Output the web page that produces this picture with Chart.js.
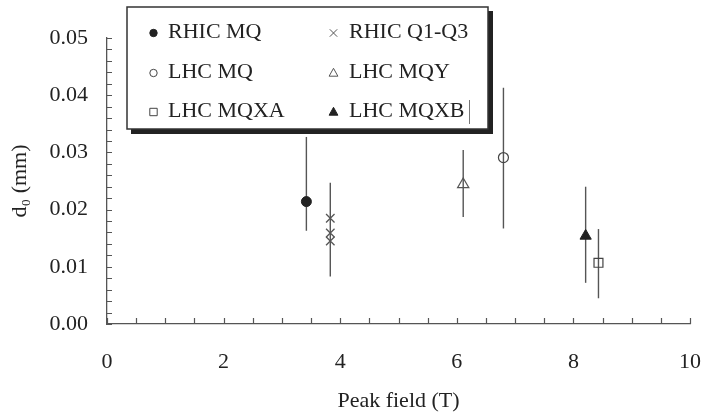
<!DOCTYPE html>
<html lang="en">
<head>
<meta charset="UTF-8">
<title>d0 vs Peak field</title>
<script src="https://cdn.jsdelivr.net/npm/chart.js"></script>
<style>
  body { margin: 0; background: #fff; }
</style>
</head>
<body>
<canvas id="myChart" width="706" height="415"></canvas>
<script>
// nomes das series (ordem da legenda, linha por linha)
const nomes = ["RHIC MQ", "RHIC Q1-Q3", "LHC MQ", "LHC MQY", "LHC MQXA", "LHC MQXB"];

// pontos
const rhicMqX = [3.42];
const rhicMqY = [0.0214];
const rhicQX = [3.83, 3.83, 3.83];
const rhicQY = [0.0185, 0.0159, 0.0145];
const lhcMqX = [6.80];
const lhcMqY = [0.0291];
const lhcMqyX = [6.11];
const lhcMqyY = [0.0244];
const lhcMqxaX = [8.43];
const lhcMqxaY = [0.0107];
const lhcMqxbX = [8.21];
const lhcMqxbY = [0.0154];

// barras de erro (uma por grupo)
const barX = [3.42, 3.83, 6.80, 6.11, 8.43, 8.21];
const barLow = [0.0163, 0.0083, 0.0167, 0.0187, 0.0045, 0.0072];
const barHigh = [0.0327, 0.0247, 0.0413, 0.0304, 0.0166, 0.0240];

// rotulos dos eixos
const xTickLabels = ["0", "2", "4", "6", "8", "10"];
const yTickLabels = ["0.00", "0.01", "0.02", "0.03", "0.04", "0.05"];

const fonte = "Liberation Serif, 'Times New Roman', serif";
const corTexto = "#222";

function pts(xs, ys) {
    return xs.map((x, i) => ({ x: x, y: ys[i] }));
}

const estilos = [
    { pointStyle: "circle", pointRadius: 5, backgroundColor: "#222", borderColor: "#222", borderWidth: 1 },
    { pointStyle: "crossRot", pointRadius: 6, backgroundColor: "#555", borderColor: "#555", borderWidth: 1.3 },
    { pointStyle: "circle", pointRadius: 5, backgroundColor: "rgba(0,0,0,0)", borderColor: "#444", borderWidth: 1.2 },
    { pointStyle: "triangle", pointRadius: 6.5, backgroundColor: "rgba(0,0,0,0)", borderColor: "#555", borderWidth: 1.2 },
    { pointStyle: "rect", pointRadius: 6.3, backgroundColor: "rgba(0,0,0,0)", borderColor: "#444", borderWidth: 1.2 },
    { pointStyle: "triangle", pointRadius: 6.5, backgroundColor: "#222", borderColor: "#222", borderWidth: 1 }
];

const series = [
    pts(rhicMqX, rhicMqY),
    pts(rhicQX, rhicQY),
    pts(lhcMqX, lhcMqY),
    pts(lhcMqyX, lhcMqyY),
    pts(lhcMqxaX, lhcMqxaY),
    pts(lhcMqxbX, lhcMqxbY)
];

const datasets = series.map((d, i) => Object.assign({ label: nomes[i], data: d, order: 0 }, estilos[i]));

// barras de erro como linhas verticais de dois pontos
barX.forEach((x, i) => {
    datasets.push({
        label: "erro " + i,
        data: [{ x: x, y: barLow[i] }, { x: x, y: barHigh[i] }],
        showLine: true,
        borderColor: "#555",
        borderWidth: 1.4,
        pointRadius: 0,
        order: 2
    });
});

// ticks para dentro, como na figura
const ticksDentro = {
    id: "ticksDentro",
    afterDraw(chart) {
        const ctx = chart.ctx;
        const a = chart.chartArea;
        const sx = chart.scales.x, sy = chart.scales.y;
        ctx.save();
        ctx.strokeStyle = "#555";
        ctx.lineWidth = 1.2;
        ctx.beginPath();
        sx.ticks.forEach(t => {
            const px = Math.round(sx.getPixelForValue(t.value)) + 0.5;
            ctx.moveTo(px, a.bottom);
            ctx.lineTo(px, a.bottom - 6);
        });
        sy.ticks.forEach(t => {
            const py = Math.round(sy.getPixelForValue(t.value)) + 0.5;
            ctx.moveTo(a.left, py);
            ctx.lineTo(a.left + 5, py);
        });
        ctx.stroke();
        ctx.restore();
    }
};

function marcador(ctx, estilo, x, y) {
    ctx.beginPath();
    ctx.lineWidth = 1;
    ctx.strokeStyle = estilo.borderColor;
    ctx.fillStyle = estilo.backgroundColor;
    const s = estilo.pointStyle;
    if (s === "circle") {
        ctx.arc(x, y, 3.7, 0, Math.PI * 2);
        ctx.fill();
        ctx.stroke();
    } else if (s === "crossRot") {
        ctx.moveTo(x - 3.7, y - 3.7); ctx.lineTo(x + 3.7, y + 3.7);
        ctx.moveTo(x + 3.7, y - 3.7); ctx.lineTo(x - 3.7, y + 3.7);
        ctx.stroke();
    } else if (s === "triangle") {
        ctx.moveTo(x, y - 4.7); ctx.lineTo(x + 4.4, y + 3.2); ctx.lineTo(x - 4.4, y + 3.2);
        ctx.closePath();
        ctx.fill();
        ctx.stroke();
    } else if (s === "rect") {
        ctx.rect(x - 3.7, y - 3.7, 7.4, 7.4);
        ctx.fill();
        ctx.stroke();
    }
}

// legenda em caixa com sombra, duas colunas
const legendaCaixa = {
    id: "legendaCaixa",
    afterDraw(chart) {
        const ctx = chart.ctx;
        const L = 127, T = 7, R = 488, B = 129;
        ctx.save();
        ctx.fillStyle = "#fff";
        ctx.fillRect(L, T, R - L, B - T);
        ctx.fillStyle = "#222";
        ctx.fillRect(R, T + 4, 5, B - T + 1);
        ctx.fillRect(L + 4, B, R - L + 1, 5);
        ctx.strokeStyle = "#333";
        ctx.lineWidth = 1.5;
        ctx.strokeRect(L, T, R - L, B - T);

        const colM = [153.5, 333.5];
        const colT = [168, 349];
        const linhas = [32, 72, 111];
        ctx.font = "22px " + fonte;
        ctx.textBaseline = "middle";
        ctx.textAlign = "left";
        nomes.forEach((n, i) => {
            const c = i % 2, r = Math.floor(i / 2);
            marcador(ctx, estilos[i], colM[c], linhas[r] + 1);
            ctx.fillStyle = corTexto;
            ctx.fillText(n, colT[c], linhas[r]);
        });
        // traço vertical que aparece depois de "LHC MQXB"
        ctx.strokeStyle = "#777";
        ctx.lineWidth = 1;
        ctx.beginPath();
        ctx.moveTo(469.5, 100);
        ctx.lineTo(469.5, 124);
        ctx.stroke();
        ctx.restore();
    }
};

const config = {
    type: "scatter",
    data: { datasets: datasets },
    options: {
        responsive: false,
        animation: false,
        layout: { padding: { top: 38, right: 16, left: 0, bottom: 0 } },
        plugins: {
            legend: { display: false },
            tooltip: { enabled: false }
        },
        scales: {
            x: {
                type: "linear",
                min: 0,
                max: 10,
                afterFit: s => { s.height = 91; s.paddingLeft = 0; s.paddingRight = 0; },
                grid: { display: false, drawTicks: false },
                border: { display: true, color: "#555", width: 1.3 },
                ticks: {
                    stepSize: 0.5,
                    padding: 25,
                    color: corTexto,
                    font: { family: fonte, size: 22 },
                    maxRotation: 0,
                    autoSkip: false,
                    callback: v => (Math.abs(v - Math.round(v)) < 1e-6 && Math.round(v) % 2 === 0) ? xTickLabels[Math.round(v) / 2] : ""
                },
                title: {
                    display: true,
                    text: "Peak field (T)",
                    color: corTexto,
                    font: { family: fonte, size: 22 },
                    padding: { top: 0, bottom: 1 }
                }
            },
            y: {
                type: "linear",
                min: 0,
                max: 0.05,
                afterFit: s => { s.width = 107; s.paddingTop = 0; s.paddingBottom = 0; },
                grid: { display: false, drawTicks: false },
                border: { display: true, color: "#555", width: 1.3 },
                ticks: {
                    stepSize: 0.002,
                    padding: 19,
                    color: corTexto,
                    font: { family: fonte, size: 22 },
                    autoSkip: false,
                    callback: v => {
                        const k = Math.round(v * 1000);
                        return k % 10 === 0 ? yTickLabels[k / 10] : "";
                    }
                },
                title: {
                    display: true,
                    text: "d\u2080 (mm)",
                    color: corTexto,
                    font: { family: fonte, size: 22 },
                    padding: { top: 7, bottom: 0 }
                }
            }
        }
    },
    plugins: [ticksDentro, legendaCaixa]
};

new Chart(document.getElementById("myChart"), config);
</script>
</body>
</html>
